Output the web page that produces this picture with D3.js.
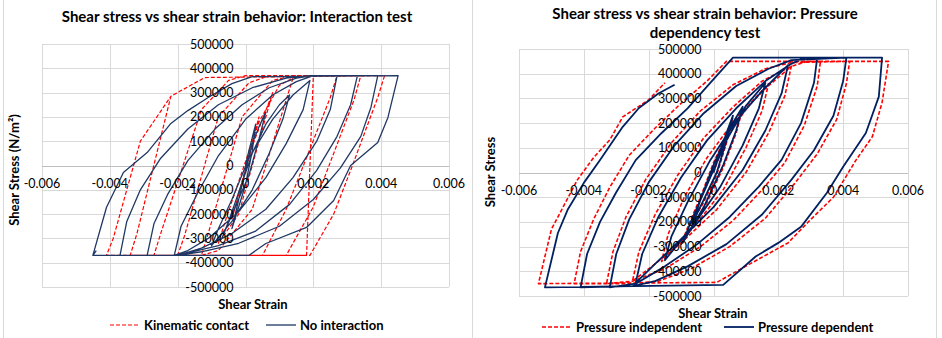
<!DOCTYPE html>
<html>
<head>
<title>Shear stress vs shear strain</title>
<script src="https://cdn.jsdelivr.net/npm/d3@7"></script>
</head>
<body style="margin:0;background:#fff">
<svg id="chart" width="942" height="338"></svg>

<script>

// tick values (same on both charts)
var strainTicks = [-0.006, -0.004, -0.002, 0, 0.002, 0.004, 0.006];
var stressTicks = [-500000, -400000, -300000, -200000, -100000, 0, 100000, 200000, 300000, 400000, 500000];

// Interaction test, [strain, stress]
var kinematicContact = [
 [0,0],[0.0004,200000],
 [0.0001,40000],[-0.0004,-220000],
 [0.0002,80000],[0.0008,300000],
 [0.0006,200000],[-0.0002,-200000],[-0.0008,-320000],
 [-0.0006,-230000],[0.0004,180000],[0.0010,330000],[0.0014,360000],
 [0.0012,270000],[0.0002,-180000],[-0.0008,-350000],[-0.0013,-370000],
 [-0.0011,-280000],[-0.0001,200000],[0.0008,350000],[0.0014,370000],[0.0020,370000],
 [0.0019,0],[0.0018,-370000],[-0.0020,-370000],
 [-0.0018,-290000],[-0.0008,200000],[0.0001,340000],[0.0007,370000],[0.0027,370000],
 [0.0025,280000],[0.0012,-180000],[0.0005,-370000],[-0.0027,-370000],
 [-0.0025,-280000],[-0.0013,230000],[-0.0005,350000],[0,370000],[0.0034,370000],
 [0.0032,270000],[0.0020,-170000],[0.0012,-370000],[-0.0034,-370000],
 [-0.0032,-280000],[-0.0022,285000],[-0.0012,362000],[0.0041,370000],
 [0.0039,280000],[0.0031,-20000],[0.0026,-200000],[0.0019,-370000],[-0.0041,-370000],
 [-0.0039,-300000],[-0.0031,100000],[-0.0022,285000]
];

var noInteraction = [
 [0,0],[0.0001,60000],[0.0003,170000],
 [0.0002,60000],[0,-80000],[-0.0002,-170000],[-0.0004,-260000],
 [-0.0002,-140000],[0,-20000],[0.0002,90000],[0.0004,160000],[0.0006,220000],
 [0.0004,110000],[0.0001,-40000],[-0.0003,-170000],[-0.0007,-300000],
 [-0.0005,-230000],[-0.0002,-110000],[0.0002,50000],[0.0006,170000],[0.0010,250000],[0.0013,290000],
 [0.0011,190000],[0.0007,50000],[0.0002,-100000],[-0.0004,-230000],[-0.0010,-330000],
 [-0.0008,-260000],[-0.0004,-140000],[0.0001,30000],[0.0008,190000],[0.0014,290000],[0.0019,350000],
 [0.0017,230000],[0.0012,90000],[0.0006,-50000],[-0.0002,-190000],[-0.0011,-300000],[-0.0017,-350000],[-0.0021,-370000],
 [-0.0019,-250000],[-0.0014,-110000],[-0.0008,40000],[0,190000],[0.0008,290000],[0.0015,345000],[0.0020,370000],[0.0027,370000],
 [0.0025,230000],[0.0021,100000],[0.0014,-50000],[0.0006,-180000],[-0.0004,-280000],[-0.0013,-340000],[-0.0020,-370000],[-0.0029,-370000],
 [-0.0027,-240000],[-0.0023,-120000],[-0.0017,20000],[-0.0009,150000],[-0.0001,250000],[0.0007,320000],[0.0015,360000],[0.0020,370000],[0.0033,370000],
 [0.0031,250000],[0.0027,120000],[0.0021,-20000],[0.0013,-160000],[0.0003,-270000],[-0.0008,-330000],[-0.0017,-360000],[-0.0021,-370000],[-0.0037,-370000],
 [-0.0035,-230000],[-0.0031,-100000],[-0.0025,30000],[-0.0017,150000],[-0.0008,250000],[0.0002,320000],[0.0012,360000],[0.0019,370000],[0.0039,370000],
 [0.0037,240000],[0.0034,120000],[0.0028,-10000],[0.0020,-140000],[0.0010,-250000],[-0.0002,-320000],[-0.0013,-355000],[-0.0020,-370000],[-0.0045,-370000],
 [-0.0041,-173000],[-0.0036,-29000],[-0.0029,53000],[-0.0022,173000],[-0.0017,226000],[-0.0011,280000],[-0.0004,337000],[0.0002,366000],[0.0045,370000],
 [0.0042,198000],[0.0039,95000],[0.0031,0],[0.0026,-144000],[0.0018,-255000],[0.0006,-321000],[0.0001,-370000],[-0.0045,-370000],[-0.0044,-350000]
];

// Pressure dependency test, [strain, stress]
var pressureIndependent = [
 [0,0],[0.0002,75000],[0.0004,150000],[0.0006,225000],
 [0.0004,120000],[0.0001,-10000],[-0.0003,-120000],[-0.0007,-210000],
 [-0.0004,-100000],[0,40000],[0.0005,180000],[0.0009,260000],
 [0.0007,160000],[0.0003,20000],[-0.0003,-150000],[-0.0010,-290000],
 [-0.0007,-190000],[-0.0002,-40000],[0.0004,140000],[0.0011,275000],[0.0017,360000],
 [0.0015,250000],[0.0010,100000],[0.0003,-70000],[-0.0006,-220000],[-0.0016,-360000],
 [-0.0014,-250000],[-0.0009,-100000],[-0.0002,60000],[0.0007,220000],[0.0016,340000],[0.0024,430000],
 [0.0022,310000],[0.0017,160000],[0.0010,0],[0.0001,-150000],[-0.0010,-285000],[-0.0019,-380000],[-0.0025,-440000],
 [-0.0023,-320000],[-0.0018,-170000],[-0.0011,-10000],[-0.0003,140000],[0.0006,265000],[0.0015,370000],[0.0024,430000],[0.0029,450000],[0.0033,450000],
 [0.0032,350000],[0.0028,190000],[0.0022,40000],[0.0015,-70000],[0.0006,-195000],[-0.0004,-300000],[-0.0015,-390000],[-0.0025,-440000],[-0.0033,-450000],
 [-0.0031,-320000],[-0.0027,-180000],[-0.0021,-30000],[-0.0013,120000],[-0.0004,250000],[0.0006,355000],[0.0016,420000],[0.0024,445000],[0.0042,450000],
 [0.0041,360000],[0.0038,215000],[0.0032,75000],[0.0025,-45000],[0.0016,-185000],[0.0005,-300000],[-0.0007,-390000],[-0.0017,-440000],[-0.0026,-450000],[-0.0043,-450000],
 [-0.0041,-320000],[-0.0037,-190000],[-0.0032,-60000],[-0.0026,70000],[-0.0018,180000],[-0.0010,280000],[-0.0002,370000],[0.0004,450000],[0.0054,450000],
 [0.0052,283000],[0.0049,145000],[0.0044,51000],[0.0037,-100000],[0.0030,-190000],[0.0023,-285000],[0.0014,-350000],[0.0001,-445000],[-0.0054,-450000],
 [-0.0050,-230000],[-0.0042,-30000],[-0.0037,60000],[-0.0032,132000],[-0.0028,225000],[-0.0020,294000],[-0.0015,363000]
];

var pressureDependent = [
 [0,0],[0.0002,80000],[0.0004,160000],[0.0006,230000],
 [0.0004,130000],[0.0001,0],[-0.0003,-110000],[-0.00065,-205000],
 [-0.0004,-110000],[0,30000],[0.0005,180000],[0.0009,266000],
 [0.0007,170000],[0.0003,30000],[-0.0003,-140000],[-0.00095,-285000],
 [-0.0007,-200000],[-0.0002,-50000],[0.0004,130000],[0.0010,270000],[0.0016,363000],
 [0.0014,260000],[0.0009,110000],[0.0002,-60000],[-0.0006,-210000],[-0.0015,-355000],
 [-0.0013,-260000],[-0.0008,-120000],[-0.0001,50000],[0.0007,210000],[0.0015,330000],[0.0023,435000],
 [0.0021,320000],[0.0016,170000],[0.0009,10000],[0,-140000],[-0.0010,-270000],[-0.0018,-370000],[-0.0024,-447000],
 [-0.0022,-330000],[-0.0017,-180000],[-0.0010,-20000],[-0.0002,130000],[0.0007,260000],[0.0016,370000],[0.0024,440000],[0.0028,465000],[0.0032,465000],
 [0.0031,363000],[0.0027,200000],[0.0021,51000],[0.0014,-57000],[0.0005,-180000],[-0.0005,-290000],[-0.0015,-380000],[-0.0024,-450000],[-0.0032,-465000],
 [-0.0030,-330000],[-0.0026,-190000],[-0.0020,-40000],[-0.0012,110000],[-0.0003,240000],[0.0007,350000],[0.0017,420000],[0.0024,455000],[0.0041,465000],
 [0.0040,370000],[0.0037,230000],[0.0031,90000],[0.0024,-30000],[0.0015,-170000],[0.0004,-290000],[-0.0008,-380000],[-0.0018,-440000],[-0.0025,-460000],[-0.0041,-465000],
 [-0.0039,-330000],[-0.0035,-200000],[-0.0030,-80000],[-0.0024,50000],[-0.0016,160000],[-0.0008,260000],[-0.0001,363000],[0.0006,465000],[0.0052,465000],
 [0.0051,307000],[0.0047,160000],[0.0040,23000],[0.0035,-82000],[0.0027,-220000],[0.0020,-285000],[0.0013,-340000],[0.0003,-455000],[-0.0052,-465000],
 [-0.0048,-245000],[-0.0045,-151000],[-0.0040,-42000],[-0.0035,51000],[-0.0028,185000],[-0.0023,261000],[-0.0017,320000],[-0.0012,355000]
];

var svg = d3.select("#chart");
var font = "Lato, 'Open Sans', sans-serif";

// chart area borders
svg.append("line").attr("x1", 3.5).attr("x2", 3.5).attr("y1", 0).attr("y2", 338).style("stroke", "#d9d9d9");
svg.append("line").attr("x1", 472.5).attr("x2", 472.5).attr("y1", 0).attr("y2", 338).style("stroke", "#d9d9d9");
svg.append("line").attr("x1", 936.5).attr("x2", 936.5).attr("y1", 0).attr("y2", 338).style("stroke", "#d9d9d9");

function drawChart(c) {
	var x = d3.scaleLinear().domain([-0.006, 0.006]).range([c.left, c.right]);
	var y = d3.scaleLinear().domain([-500000, 500000]).range([c.bottom, c.top]);
	var g = svg.append("g");

	// gridlines
	g.selectAll(".vg").data(strainTicks).enter().append("line")
		.attr("x1", function(d){ return Math.round(x(d)) + 0.5; })
		.attr("x2", function(d){ return Math.round(x(d)) + 0.5; })
		.attr("y1", c.top).attr("y2", c.bottom)
		.style("stroke", "#d9d9d9").style("stroke-width", 1);
	g.selectAll(".hg").data(stressTicks).enter().append("line")
		.attr("x1", c.left).attr("x2", c.right)
		.attr("y1", function(d){ return Math.round(y(d)) + 0.5; })
		.attr("y2", function(d){ return Math.round(y(d)) + 0.5; })
		.style("stroke", function(d){ return d == 0 ? "#bfbfbf" : "#d9d9d9"; })
		.style("stroke-width", 1);

	var line = d3.line().x(function(d){ return x(d[0]); }).y(function(d){ return y(d[1]); });

	c.series.forEach(function(s){
		g.append("path").datum(s.data)
			.attr("d", line)
			.style("fill", "none")
			.style("stroke", s.color)
			.style("stroke-width", s.width)
			.style("stroke-linejoin", "round")
			.style("stroke-dasharray", s.dash ? "4,2" : null);
	});

	// tick labels sit on top of the lines
	g.selectAll(".yl").data(stressTicks).enter().append("text")
		.attr("x", x(0) - 12).attr("y", function(d){ return y(d); })
		.attr("dy", "0.36em").attr("text-anchor", "end")
		.style("font-family", font).style("font-size", "12.5px").style("fill", "#000")
		.text(function(d){ return d; });
	g.selectAll(".xl").data(strainTicks).enter().append("text")
		.attr("x", function(d){ return x(d); }).attr("y", y(0) + 18)
		.attr("dy", "0.36em").attr("text-anchor", "middle")
		.style("font-family", font).style("font-size", "12.5px").style("fill", "#000")
		.text(function(d){ return d; });

	// titles
	c.title.forEach(function(t, i){
		g.append("text").attr("x", c.titleX).attr("y", c.titleY + i * 19)
			.attr("text-anchor", "middle").attr("dy", "0.36em")
			.style("font-family", font).style("font-size", "15px").style("font-weight", "bold")
			.text(t);
	});
	g.append("text").attr("x", c.xTitleX).attr("y", c.xTitleY).attr("dy", "0.36em")
		.attr("text-anchor", "middle")
		.style("font-family", font).style("font-size", "13px").style("font-weight", "bold")
		.text("Shear Strain");
	g.append("text").attr("transform", "translate(" + c.yTitleX + "," + c.yTitleY + ") rotate(-90)")
		.attr("dy", "0.36em").attr("text-anchor", "middle")
		.style("font-family", font).style("font-size", "13px").style("font-weight", "bold")
		.text(c.yTitle);

	// legend
	c.series.forEach(function(s){
		g.append("line").attr("x1", s.lx).attr("x2", s.lx + 30).attr("y1", c.legendY).attr("y2", c.legendY)
			.style("stroke", s.color).style("stroke-width", s.width)
			.style("stroke-dasharray", s.dash ? "4,2" : null);
		g.append("text").attr("x", s.lx + 34).attr("y", c.legendY).attr("dy", "0.36em")
			.style("font-family", font).style("font-size", "13px").style("font-weight", "bold")
			.text(s.name);
	});
}

drawChart({
	left: 42, right: 449, top: 44, bottom: 287,
	title: ["Shear stress vs shear strain behavior: Interaction test"], titleX: 237, titleY: 17,
	xTitleX: 253, xTitleY: 304, yTitleX: 14, yTitleY: 170, yTitle: "Shear Stress (N/m²)",
	legendY: 325,
	series: [
		{name: "Kinematic contact", data: kinematicContact, color: "#ff0000", width: 1.2, dash: true, lx: 110},
		{name: "No interaction", data: noInteraction, color: "#203864", width: 1.3, dash: false, lx: 266}
	]
});

drawChart({
	left: 519, right: 908, top: 49, bottom: 296,
	title: ["Shear stress vs shear strain behavior: Pressure", "dependency test"], titleX: 705, titleY: 14,
	xTitleX: 713, xTitleY: 313, yTitleX: 490, yTitleY: 172, yTitle: "Shear Stress",
	legendY: 327,
	series: [
		{name: "Pressure independent", data: pressureIndependent, color: "#ff0000", width: 1.6, dash: true, lx: 542},
		{name: "Pressure dependent", data: pressureDependent, color: "#002060", width: 1.8, dash: false, lx: 724}
	]
});

</script>
</body>
</html>
